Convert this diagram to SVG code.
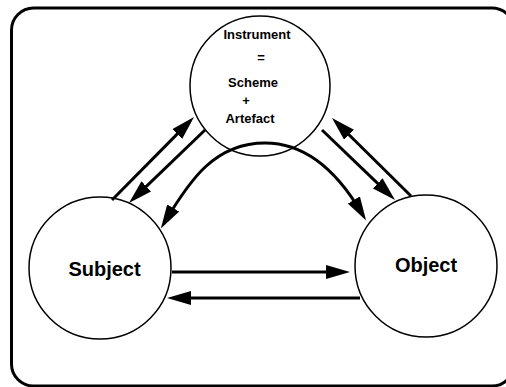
<svg xmlns="http://www.w3.org/2000/svg" width="506" height="387" viewBox="0 0 506 387">
<style>
.frame{fill:none;stroke:#000;stroke-width:3}
.node{fill:#fff;stroke:#000;stroke-width:1.5}
.lbl{font-family:"Liberation Sans",Arial,sans-serif;font-weight:bold;fill:#000;text-anchor:middle}
.small{font-size:13px}
.big{font-size:20px}
.arr{fill:none;stroke:#000;stroke-width:3}
</style>
<defs>
<marker id="ah" viewBox="0 0 24 14" refX="14" refY="7" markerWidth="24" markerHeight="14" markerUnits="userSpaceOnUse" orient="auto-start-reverse">
<path d="M0,0 L24,7 L0,14 z" fill="#000"/>
</marker>
</defs>
<rect class="frame" x="11.5" y="8" width="502.5" height="378" rx="22" ry="22"/>
<g id="instrument">
<circle class="node" cx="260" cy="86" r="70"/>
<text class="lbl small" x="257" y="39">Instrument</text>
<text class="lbl small" x="261" y="62">=</text>
<text class="lbl small" x="253" y="87">Scheme</text>
<text class="lbl small" x="246" y="105">+</text>
<text class="lbl small" x="250" y="123">Artefact</text>
</g>
<g id="subject">
<circle class="node" cx="100" cy="268" r="71"/>
<text class="lbl big" x="104.5" y="276">Subject</text>
</g>
<g id="object">
<circle class="node" cx="426" cy="266" r="71"/>
<text class="lbl big" x="426" y="272">Object</text>
</g>
<g id="connectors">
<line class="arr" x1="172" y1="272" x2="340" y2="272" marker-end="url(#ah)"/>
<line class="arr" x1="360" y1="298" x2="177" y2="298" marker-end="url(#ah)"/>
<line class="arr" x1="112" y1="200" x2="187" y2="124.1" marker-end="url(#ah)"/>
<line class="arr" x1="205" y1="130" x2="136.2" y2="196.1" marker-end="url(#ah)"/>
<line class="arr" x1="411" y1="196" x2="339.1" y2="125" marker-end="url(#ah)"/>
<line class="arr" x1="322" y1="130" x2="387.8" y2="193.1" marker-end="url(#ah)"/>
<path class="arr" d="M166,220 C190,180 215,143 265,143 C315,143 345,185 361,212" marker-start="url(#ah)" marker-end="url(#ah)"/>
</g>
</svg>
